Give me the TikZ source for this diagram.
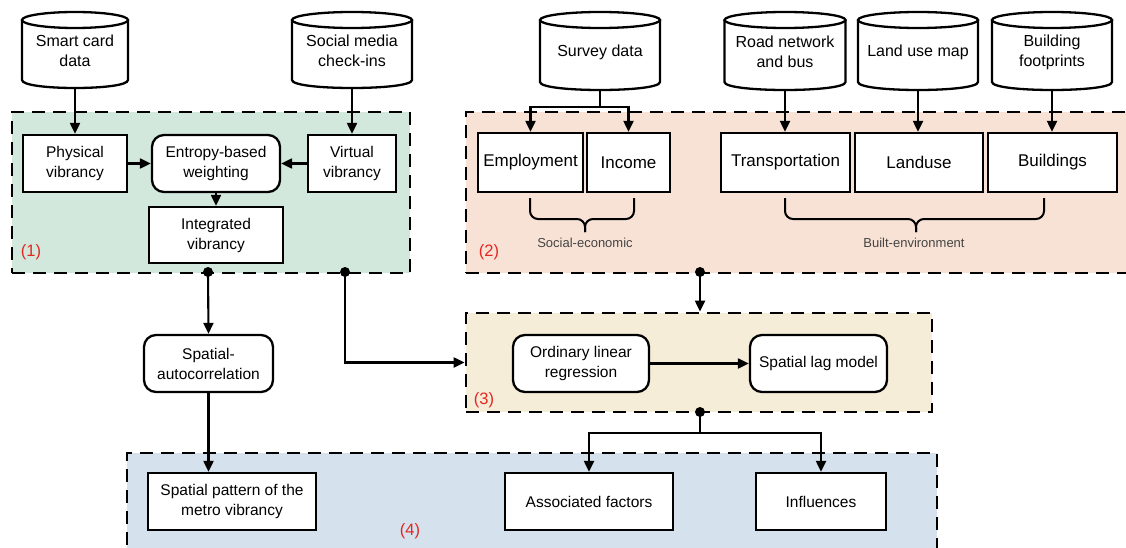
\documentclass[tikz,border=0pt]{standalone}
\usepackage{fontspec}
\setmainfont{Liberation Sans}
\usetikzlibrary{arrows.meta}
\definecolor{rgreen}{HTML}{D3E8DD}
\definecolor{rpeach}{HTML}{F8E2D5}
\definecolor{rcream}{HTML}{F6EDD8}
\definecolor{rblue}{HTML}{D5E1ED}
\definecolor{rlab}{HTML}{E52521}
\definecolor{glab}{HTML}{444444}
\tikzset{
  region/.style={draw=black, line width=2.8pt, dash pattern=on 13pt off 8pt},
  box/.style={draw=black, line width=2.3pt, fill=white, inner sep=0pt, align=center,
    font=\fontsize{15.5}{20}\selectfont},
  rbox/.style={box, rounded corners=12pt},
  bigbox/.style={box, font=\fontsize{17}{20}\selectfont},
  arr/.style={-{Triangle[length=11pt,width=10pt]}, line width=2.1pt},
  ln/.style={line width=2.1pt},
  cylline/.style={line width=2.3pt},
  cyltext/.style={inner sep=0pt, align=center, font=\fontsize{16}{20}\selectfont},
  reglab/.style={text=rlab, font=\fontsize{16.5}{18}\selectfont, inner sep=0pt},
  smalllab/.style={text=glab, font=\fontsize{13}{14}\selectfont, inner sep=0pt},
  brace/.style={line width=2pt, rounded corners=8pt},
  dot/.style={circle, fill=black, inner sep=0pt, minimum size=10pt}
}
\newcommand\dbcyl[6]{% name, cx, ytop, ybot, width, text
  \pgfmathsetmacro\cyL{#2-#5/2}%
  \pgfmathsetmacro\cyR{#2+#5/2}%
  \pgfmathsetmacro\cyT{#3+8}%
  \pgfmathsetmacro\cyB{#4-8}%
  \pgfmathsetmacro\cyC{#4-8+10.67}%
  \pgfmathsetmacro\cyM{(#3+#4)/2}%
  \pgfmathsetmacro\cyH{#4-#3}%
  \pgfmathsetmacro\cyW{#5/2}%
  \fill[white] (\cyL,\cyT) -- (\cyL,\cyB) .. controls (\cyL,\cyC) and (\cyR,\cyC) .. (\cyR,\cyB) -- (\cyR,\cyT) -- cycle;
  \draw[cylline] (\cyL,\cyT) -- (\cyL,\cyB) .. controls (\cyL,\cyC) and (\cyR,\cyC) .. (\cyR,\cyB) -- (\cyR,\cyT);
  \filldraw[cylline, fill=white] (#2,\cyT) ellipse [x radius=\cyW, y radius=8];
  \node[inner sep=0pt, minimum width=#5pt, minimum height=\cyH pt] (#1) at (#2,\cyM) {};
  \node[cyltext] (#1t) at (#2,\cyM+1) {#6};
}
\begin{document}
\begin{tikzpicture}[x=1pt, y=-1pt]
\clip (0,0) rectangle (1126,548);
\fill[white] (0,0) rectangle (1126,548);

% regions
\node[region, fill=rgreen, minimum width=398pt, minimum height=161pt, inner sep=0pt] (r1) at (211,192.5) {};
\node[region, fill=rpeach, minimum width=669pt, minimum height=161pt, inner sep=0pt] (r2) at (800.5,192.5) {};
\node[region, fill=rcream, minimum width=466pt, minimum height=99pt, inner sep=0pt] (r3) at (699,362.5) {};
\node[region, fill=rblue, minimum width=810pt, minimum height=107pt, inner sep=0pt] (r4) at (532,506.5) {};

\node[reglab] (l1) at (31,252) {(1)};
\node[reglab] (l2) at (489,252) {(2)};
\node[reglab] (l3) at (484,400) {(3)};
\node[reglab] (l4) at (410,531) {(4)};

% cylinders
\dbcyl{smart}{75}{12}{88}{106}{Smart card\\data}
\dbcyl{social}{352}{12}{88}{120}{Social media\\check-ins}
\dbcyl{survey}{600}{12}{90}{120}{Survey data}
\dbcyl{road}{785}{12}{90}{121}{Road network\\and bus}
\dbcyl{landmap}{918}{12}{90}{120}{Land use map}
\dbcyl{bfoot}{1052}{12}{90}{120}{Building\\footprints}

% region 1
\node[box, minimum width=104pt, minimum height=57pt] (phys) at (75,163.5) {Physical\\vibrancy};
\node[rbox, minimum width=128pt, minimum height=57pt] (entropy) at (216,163.5) {Entropy-based\\weighting};
\node[box, minimum width=88pt, minimum height=57pt] (virt) at (352,163.5) {Virtual\\vibrancy};
\node[box, minimum width=134pt, minimum height=56pt] (integ) at (216,235) {Integrated\\vibrancy};

\draw[arr] (smart.south) -- (phys.north);
\draw[arr] (social.south) -- (virt.north);
\draw[arr] (phys.east) -- (entropy.west);
\draw[arr] (virt.west) -- (entropy.east);
\draw[arr] (entropy.south) -- (integ.north);

% region 2
\node[bigbox, minimum width=105pt, minimum height=59pt] (emp) at (530.5,162.5) {Employment};
\node[bigbox, minimum width=83pt, minimum height=59pt] (inc) at (628.5,162.5) {Income};
\node[bigbox, minimum width=129pt, minimum height=59pt] (trans) at (785.5,162.5) {Transportation};
\node[bigbox, minimum width=128pt, minimum height=59pt] (land) at (919,162.5) {Landuse};
\node[bigbox, minimum width=129pt, minimum height=59pt] (build) at (1052.5,162.5) {Buildings};

\coordinate (sj) at (600,107);
\draw[ln] (survey.south) -- (sj);
\draw[arr] (sj) -| (emp.north);
\draw[arr] (sj) -| (inc.north);
\draw[arr] (road.south) -- (road.south |- trans.north);
\draw[arr] (landmap.south) -- (landmap.south |- land.north);
\draw[arr] (bfoot.south) -- (bfoot.south |- build.north);

\draw[brace] (530,198) -- (530,219) -- (585,219) -- (585,232);
\draw[brace] (634,198) -- (634,219) -- (585,219) -- (585,232);
\node[smalllab] (se) at (585,243) {Social-economic};
\draw[brace] (785,198) -- (785,219) -- (916,219) -- (916,232);
\draw[brace] (1044,198) -- (1044,219) -- (916,219) -- (916,232);
\node[smalllab] (be) at (914,243) {Built-environment};

% connectors between regions
\node[dot] (d1) at (208,272) {};
\node[dot] (d1b) at (345,272) {};
\node[dot] (d2) at (700,272) {};
\node[dot] (d3) at (700,412) {};

\node[rbox, minimum width=129pt, minimum height=57pt] (sa) at (208.5,363.5) {Spatial-\\autocorrelation};
\draw[arr] (d1.center) -- (sa.north);
\draw[arr] (d1b.center) |- (r3.west);
\draw[arr] (d2.center) -- (d2.center |- r3.north);

% region 3
\node[rbox, minimum width=136pt, minimum height=57pt] (olr) at (581,363.5) {Ordinary linear\\regression};
\node[rbox, minimum width=137pt, minimum height=57pt] (slm) at (818.5,363.5) {Spatial lag model};
\draw[arr] (olr.east) -- (slm.west);

% region 4
\node[box, minimum width=168pt, minimum height=57pt] (sp) at (232,501.5) {Spatial pattern of the\\metro vibrancy};
\node[box, minimum width=168pt, minimum height=57pt] (af) at (589,501.5) {Associated factors};
\node[box, minimum width=130pt, minimum height=57pt] (inf) at (821,501.5) {Influences};

\draw[arr] (sa.south) -- (sa.south |- sp.north);
\coordinate (bj) at (700,433);
\draw[ln] (d3.center) -- (bj);
\draw[arr] (bj) -| (af.north);
\draw[arr] (bj) -| (inf.north);
\end{tikzpicture}
\end{document}
